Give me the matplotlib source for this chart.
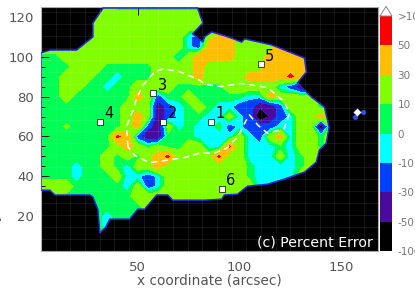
import numpy as np
import matplotlib
matplotlib.use("Agg")
import matplotlib.pyplot as plt
from matplotlib.patches import Polygon

# percent error bands, value picked from inside each colour band
K, P, B, C, G, L, O, R = -70, -48, -20, -6, 5, 20, 40, 70
S = 54  # small red spots
T = 12  # small lime spot

x_grid = list(range(0, 150, 5))
y_grid = list(range(125, 5, -5))

y125 = [L]*8 + [G]*9 + [L]*13
y120 = [L]*30
y115 = [L]*30
y110 = [L]*15 + [C, B, L, O, O] + [L]*10
y105 = [L]*15 + [C, B, O, O, O, L, L, L, L, O, O, L, L, L, L]
y100 = [G, G, G, L] + [L]*10 + [C, L, O, O, O, O, L, L, L, O, O, O, O, O, L, L]
y95 = [G]*4 + [L]*3 + [G]*5 + [L]*4 + [O, L, L, L, L, L, L, O, O, O, O, O, L, L]
y90 = [G]*3 + [L]*3 + [G, G, C, G, G, G] + [L]*4 + [O] + [L]*4 + [O, O, O, O, S, O, P, L, L]
y85 = [G]*3 + [L]*2 + [G, G, C, G, G] + [L]*4 + [G]*5 + [L]*5 + [C, B, P, P, L, L]
y80 = [G, G, G, L, G, G, G, G, G, G, O, L, B, G, G, L, G, G, G, G, G, C, C, O, L, L, L, L, G, G]
y75 = [G]*9 + [L, L, L, P, B, C, G, L, G, C, C, B, B, P, P, B, L, L, L, G, G]
y70 = [G]*9 + [L, O, L, P, B, C, G, G, C, C, L, C, B, K, P, B, C, L, L, O, L]
y65 = [G, G, G, T] + [G]*5 + [L, O, B, P, L, C, G, C, C, G, B, C, B, B, B, C, C, L, L, K, L]
y60 = [G]*8 + [S, O, B, P, P, G, G, G, C, C, C, C, L, C, B, L, O, C, L, L, G, L]
y55 = [G]*8 + [L, O, L, G, L, G, G, L, L, C, C, S, L, C, C, C, G, C, L, L, G, L]
y50 = [G]*7 + [L, G, L, G, L, O, S, L, L, L, L, S, L, L, C, C, C, L, C, G, L, L, L]
y45 = [G]*4 + [C, G, G, L, G, C, L, L, O] + [L]*8 + [G, C, C, C, C, G, L, L, L]
y40 = [G]*4 + [C, G, G, G, L, C, C, B, C] + [L]*8 + [G, C, C, C, C, L, L, L, L]
y35 = [L]*4 + [G]*5 + [C, L, B, C] + [L]*9 + [C]*4 + [L]*4
y30 = [L]*3 + [G]*7 + [L]*20
y25 = [G]*11 + [L]*19
y20 = [G]*7 + [C] + [G]*22
y15 = [G]*7 + [C] + [G]*22
y10 = [G]*30
error_rows = [y125, y120, y115, y110, y105, y100, y95, y90, y85, y80, y75, y70,
              y65, y60, y55, y50, y45, y40, y35, y30, y25, y20, y15, y10]

# outline of the observed field
edge_x = [2.5, 7, 20, 28, 28, 33, 79.4, 82, 77, 81.9, 82.8, 86.3, 91.2, 96, 101, 102.5,
          115.7, 122, 131.9, 132.8, 128.4, 135.3, 141.7, 144, 142.6, 139.2, 137.7, 131.9,
          122, 113.7, 103.9, 99, 92.6, 91.2, 82.8, 67.2, 64.7, 59.3, 53.4, 50, 46, 36.3,
          34.3, 31.4, 30.4, 28, 26.5, 9.3, 6.9, 2.5]
edge_y = [102, 103.4, 103.4, 110, 117, 124.5, 124.5, 117, 111.5, 107.4, 110, 112.5, 111,
          109.4, 107.4, 109, 106, 103.4, 99.4, 92.4, 86.8, 79.8, 74.8, 64.7, 56.7, 53.2,
          47.1, 42.1, 38.6, 36, 35, 31, 30.6, 28.5, 28, 28, 30.6, 30.6, 23.5, 23.5, 18.5,
          18.5, 14.5, 11.5, 23.5, 29.5, 30.6, 30.6, 33, 33]

# dashed white loop
loop_x = [45.2, 44.5, 47.7, 49.4, 52.6, 58.3, 62.4, 70.6, 80.4, 82.8, 91, 100.8, 113.9,
          122, 124.5, 122, 113.9, 109, 104.9, 103.3, 99.2, 93.5, 87.7, 80.4, 73.9, 64,
          55.9, 48.5, 45.2]
loop_y = [54.8, 64.9, 73.3, 79.1, 85.8, 92.5, 93.9, 92.5, 88.3, 86.2, 85, 86.7, 84.5,
          77.4, 71.6, 64, 61.5, 65.7, 70.8, 68.2, 59.9, 54, 51.7, 51.7, 49.6, 48, 46.8,
          50.5, 54.8]

# numbered squares
site_x = [86.1, 62.3, 57.7, 31.4, 110.3, 91.2]
site_y = [67.4, 67.4, 81.8, 67.4, 96.2, 33.7]
site_names = ["1", "2", "3", "4", "5", "6"]

levels = [-100, -50, -30, -10, 0, 10, 30, 50, 100]
band_colors = ["#000000", "#4a0a9e", "#0040ff", "#00ffff", "#00ff55", "#80ff00", "#ffbf00", "#ff0000"]
bar_labels = ["-100", "-50", "-30", "-10", "0", "10", "30", "50", ">100"]

plt.rcParams["font.family"] = "DejaVu Sans"
fig = plt.figure(figsize=(4.15, 2.97), dpi=100)
ax = fig.add_axes([41/415, 1 - 251/297, 337/415, 244/297], facecolor="black")

cs = ax.contourf(x_grid, y_grid, np.array(error_rows), levels=levels, colors=band_colors)
field = Polygon(np.column_stack([edge_x, edge_y]), closed=True, transform=ax.transData,
                fill=False, edgecolor="#2a20e0", linewidth=1.1, zorder=3)
ax.add_patch(field)
cs.set_clip_path(field)

ax.plot(loop_x, loop_y, color="white", lw=1.1, ls=(0, (4, 3)), zorder=4)

# small patch off to the right
ax.plot([157.7], [72.3], marker="D", ms=4.5, color="white", mec="none", zorder=5)
ax.plot([156.7, 160.6], [69.7, 72.3], ls="none", marker="o", ms=2.5, color="#2a50ff", zorder=4)

ax.plot(site_x, site_y, ls="none", marker="s", ms=4.2, mfc="white", mec="black", mew=0.5, zorder=6)
for sx, sy, name in zip(site_x, site_y, site_names):
    ax.text(sx + 2.3, sy + 0.2, name, fontsize=10.5, color="black", va="bottom", ha="left", zorder=6)

ax.set_xlim(2.5, 168)
ax.set_ylim(2.5, 125)
ax.set_xticks([50, 100, 150])
ax.set_yticks([20, 40, 60, 80, 100, 120])
ax.set_yticks(range(5, 125, 5), minor=True)
ax.tick_params(axis="both", which="both", direction="in", colors="black", top=True, length=6, width=0.7,
               labelsize=9.5, labelcolor="#555555", pad=5)
ax.tick_params(axis="x", which="major", pad=7)
ax.tick_params(axis="both", which="minor", length=3)
for side in ax.spines.values():
    side.set_color("#aaaaaa")

# faint grid over the map
for gx in np.arange(2.5, 168, 7.2):
    ax.axvline(gx, color="white", alpha=0.1, lw=0.6, zorder=5)
for gy in np.arange(2.5, 125, 6):
    ax.axhline(gy, color="white", alpha=0.1, lw=0.6, zorder=5)

ax.text(0.985, 0.005, "(c) Percent Error", transform=ax.transAxes, ha="right", va="bottom",
        color="white", fontsize=10.2, zorder=7)
ax.set_xlabel("x coordinate (arcsec)", fontsize=9.8, color="#555555", labelpad=0)
fig.text(-0.012, 0.5, "y coordinate (arcsec)", rotation=90, fontsize=9.8, color="#555555", va="center", ha="center")

cax = fig.add_axes([380/415, 1 - 251/297, 12/415, 235/297])
bar_pos = list(range(len(band_colors) + 1))
for i, col in enumerate(band_colors):
    cax.axhspan(bar_pos[i], bar_pos[i + 1], color=col, lw=0)
cax.set_xlim(0, 1)
cax.set_ylim(0, len(band_colors))
cax.set_xticks([])
cax.set_yticks(bar_pos)
cax.set_yticklabels(bar_labels)
cax.yaxis.tick_right()
cax.tick_params(axis="y", length=0, labelsize=7.5, labelcolor="#777777", pad=4)
for side in cax.spines.values():
    side.set_visible(False)
cax.plot([0, 0.5, 1, 0], [8, 8.33, 8, 8], color="#888888", lw=0.7, clip_on=False)

fig.savefig("out.png", dpi=100)
